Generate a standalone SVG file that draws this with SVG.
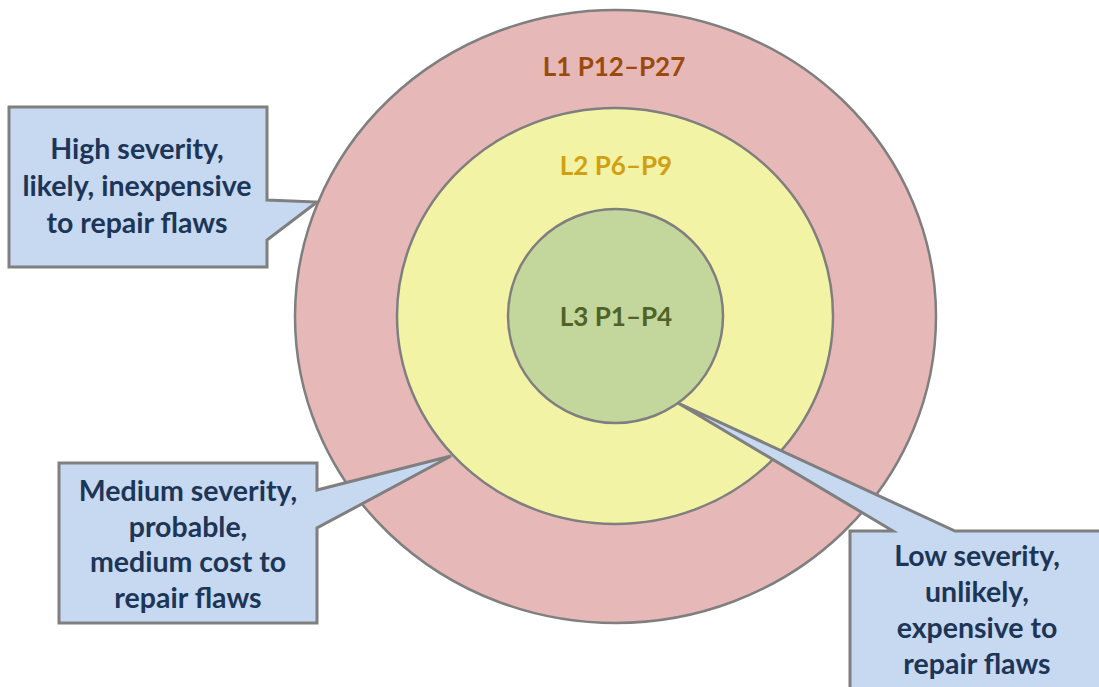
<svg xmlns="http://www.w3.org/2000/svg" width="1099" height="687" viewBox="0 0 1099 687">
<style>
.ring{stroke:#7f7f7f;stroke-width:2.5}
.lbl{font-family:Lato,"Open Sans","DejaVu Sans",sans-serif;font-weight:bold;font-size:26px;text-anchor:middle}
.call{fill:#c6d9f1;stroke:#7f7f7f;stroke-width:3;stroke-linejoin:miter}
.ct{font-family:Lato,"Open Sans","DejaVu Sans",sans-serif;font-weight:bold;font-size:28.5px;text-anchor:middle;fill:#1d3557}
</style>
<rect width="1099" height="687" fill="#ffffff"/>
<g id="ring-l1">
<ellipse class="ring" cx="615.5" cy="316.5" rx="320.5" ry="306.5" fill="#e6b8b7"/>
<text class="lbl" x="614" y="76" fill="#9c4a0c">L1 P12–P27</text>
</g>
<g id="ring-l2">
<ellipse class="ring" cx="615" cy="316" rx="218" ry="208" fill="#f2f3a4"/>
<text class="lbl" x="616" y="175" fill="#d1a012">L2 P6–P9</text>
</g>
<g id="ring-l3">
<ellipse class="ring" cx="615.5" cy="316" rx="107.5" ry="107" fill="#c3d69b"/>
<text class="lbl" x="616" y="326" fill="#4f6228">L3 P1–P4</text>
</g>
<g id="connectors"></g>
<g id="callout-high">
<path class="call" d="M9,107 L267,107 L267,200 L317,202 L267,240 L267,267 L9,267 Z"/>
<text class="ct" x="137" y="159">High severity,</text>
<text class="ct" x="137" y="196">likely, inexpensive</text>
<text class="ct" x="137" y="233">to repair flaws</text>
</g>
<g id="callout-medium">
<path class="call" d="M59,463 L317,463 L317,490 L451,456 L317,528 L317,623 L59,623 Z"/>
<text class="ct" x="188" y="501">Medium severity,</text>
<text class="ct" x="188" y="536.5">probable,</text>
<text class="ct" x="188" y="572">medium cost to</text>
<text class="ct" x="188" y="607.5">repair flaws</text>
</g>
<g id="callout-low">
<path class="call" d="M850,531 L893,531 L678,403 L955,531 L1110,531 L1110,700 L850,700 Z"/>
<text class="ct" x="977" y="566">Low severity,</text>
<text class="ct" x="977" y="602">unlikely,</text>
<text class="ct" x="977" y="638">expensive to</text>
<text class="ct" x="977" y="674">repair flaws</text>
</g>
</svg>
